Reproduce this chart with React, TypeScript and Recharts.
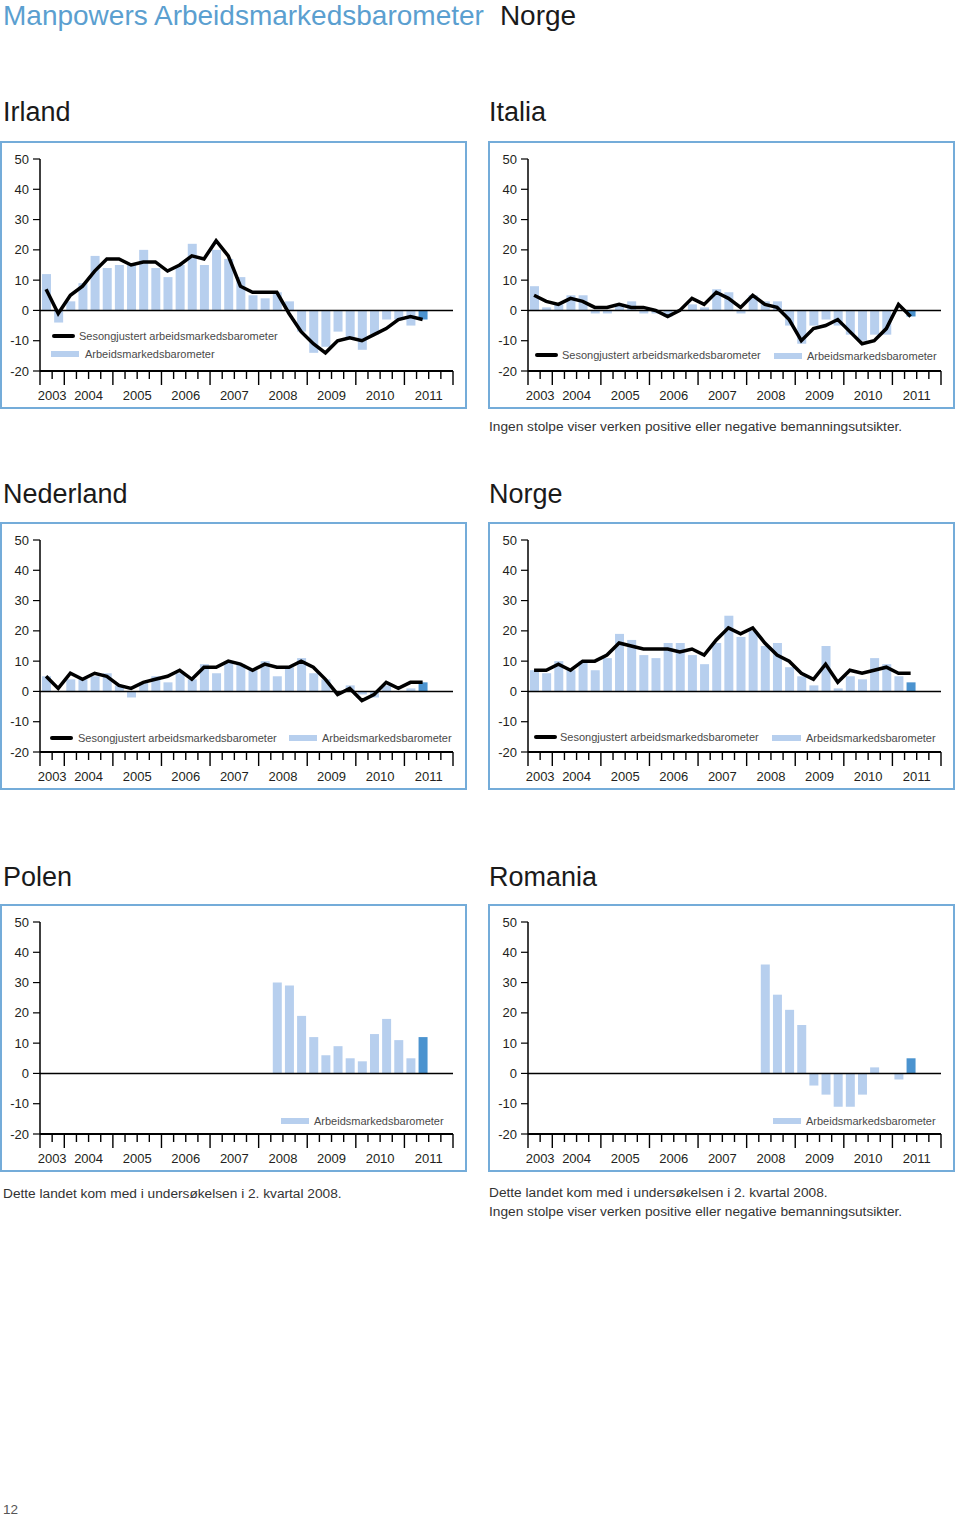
import React from "react";
import { ComposedChart, Bar, Line, XAxis, YAxis, ReferenceLine, Cell, Legend } from "recharts";

// ---------- categories ----------
const quarters = [
  "2003K3", "2003K4",
  "2004K1", "2004K2", "2004K3", "2004K4",
  "2005K1", "2005K2", "2005K3", "2005K4",
  "2006K1", "2006K2", "2006K3", "2006K4",
  "2007K1", "2007K2", "2007K3", "2007K4",
  "2008K1", "2008K2", "2008K3", "2008K4",
  "2009K1", "2009K2", "2009K3", "2009K4",
  "2010K1", "2010K2", "2010K3", "2010K4",
  "2011K1", "2011K2", "2011K3", "2011K4",
];
const yTicks = [-20, -10, 0, 10, 20, 30, 40, 50];

// ---------- series (from 2003K3 unless a start is given) ----------
const irlandBars = [12, -4, 3, 9, 18, 14, 15, 15, 20, 14, 11, 15, 22, 15, 20, 17, 11, 5, 4, 6, 3, -7, -14, -12, -7, -9, -13, -8, -3, -3, -5, -3];
const irlandLine = [7, -1, 5, 8, 13, 17, 17, 15, 16, 16, 13, 15, 18, 17, 23, 18, 8, 6, 6, 6, -1, -7, -11, -14, -10, -9, -10, -8, -6, -3, -2, -3];

const italiaBars = [8, 1, 2, 5, 5, -1, -1, 2, 3, -1, -1, -2, 0, 2, 1, 7, 6, -1, 5, 3, 3, -5, -11, -5, -3, -5, -8, -10, -8, -8, 0, -2];
const italiaLine = [5, 3, 2, 4, 3, 1, 1, 2, 1, 1, 0, -2, 0, 4, 2, 6, 4, 1, 5, 2, 1, -3, -10, -6, -5, -3, -7, -11, -10, -6, 2, -2];

const nederlandBars = [5, 0, 4, 4, 5, 6, 2, -2, 3, 5, 3, 6, 4, 9, 6, 10, 9, 7, 10, 5, 8, 11, 6, 4, 0, 2, -1, -2, 2, 0, 1, 3];
const nederlandLine = [5, 1, 6, 4, 6, 5, 2, 1, 3, 4, 5, 7, 4, 8, 8, 10, 9, 7, 9, 8, 8, 10, 8, 4, -1, 1, -3, -1, 3, 1, 3, 3];

const norgeBars = [7, 6, 10, 7, 10, 7, 11, 19, 17, 12, 11, 16, 16, 12, 9, 16, 25, 18, 20, 15, 16, 8, 5, 2, 15, 1, 5, 4, 11, 9, 5, 3];
const norgeLine = [7, 7, 9, 7, 10, 10, 12, 16, 15, 14, 14, 14, 13, 14, 12, 17, 21, 19, 21, 16, 12, 10, 6, 4, 9, 3, 7, 6, 7, 8, 6, 6];

const polenStart = "2008K2";
const polenBars = [30, 29, 19, 12, 6, 9, 5, 4, 13, 18, 11, 5, 12];

const romaniaStart = "2008K2";
const romaniaBars = [36, 26, 21, 16, -4, -7, -11, -11, -7, 2, 0, -2, 5];

const lineName = "Sesongjustert arbeidsmarkedsbarometer";
const barName = "Arbeidsmarkedsbarometer";

// ---------- style ----------
const FONT = '"Liberation Sans", Arial, Helvetica, sans-serif';
const LIGHT = "#b7cfee";
const DARK = "#4b93cf";
const BORDER = "#74acd9";
const BLUE = "#5b9fd0";
const TXT = "#231f20";
const CW = 467;
const CH = 268;
const MARGIN = { top: 18, right: 14, left: 0, bottom: 0 };
const YW = 40;
const XH = 38;
const SLOT = (CW - MARGIN.left - MARGIN.right - YW) / quarters.length;

function XTick(props: any) {
  const { x, y, payload } = props;
  const q: string = payload.value;
  const i = quarters.indexOf(q);
  const year = q.slice(0, 4);
  const first = i === 0 || quarters[i - 1].slice(0, 4) !== year;
  const n = quarters.filter((s) => s.slice(0, 4) === year).length;
  const left = x - SLOT / 2;
  return (
    <g>
      <line x1={left} x2={left} y1={y} y2={y + (first ? 14 : 8)} stroke="#000" strokeWidth={1.4} />
      {i === quarters.length - 1 && (
        <line x1={x + SLOT / 2} x2={x + SLOT / 2} y1={y} y2={y + 14} stroke="#000" strokeWidth={1.4} />
      )}
      {first && (
        <text x={left + (n * SLOT) / 2} y={y + 29} textAnchor="middle" fontSize={13} fill={TXT}>
          {year}
        </text>
      )}
    </g>
  );
}

type LegendItem = { x1: number; x2: number; y: number; tx: number };
type LegendSpec = { line?: LegendItem; bar?: LegendItem };

const legTxt: React.CSSProperties = {
  position: "absolute",
  fontSize: 11,
  lineHeight: "14px",
  whiteSpace: "nowrap",
  color: "#4a4a4a",
  fontFamily: FONT,
};

function LegendBox({ spec }: { spec: LegendSpec }) {
  const { line, bar } = spec;
  return (
    <div style={{ position: "relative", width: CW, height: CH }}>
      {line && (
        <>
          <div
            style={{
              position: "absolute",
              left: line.x1,
              top: line.y - 1.7,
              width: line.x2 - line.x1,
              height: 3.4,
              background: "#000",
              borderRadius: 2,
            }}
          />
          <div style={{ ...legTxt, left: line.tx, top: line.y - 7 }}>{lineName}</div>
        </>
      )}
      {bar && (
        <>
          <div
            style={{
              position: "absolute",
              left: bar.x1,
              top: bar.y - 3,
              width: bar.x2 - bar.x1,
              height: 6,
              background: LIGHT,
            }}
          />
          <div style={{ ...legTxt, left: bar.tx, top: bar.y - 7 }}>{barName}</div>
        </>
      )}
    </div>
  );
}

function CountryChart({
  bars,
  line,
  start,
  legend,
}: {
  bars: number[];
  line?: number[];
  start: string;
  legend: LegendSpec;
}) {
  const s = quarters.indexOf(start);
  const last = s + bars.length - 1;
  const data = quarters.map((q, i) => ({
    q,
    bar: i >= s && i <= last ? bars[i - s] : null,
    line: line && i < line.length ? line[i] : null,
  }));
  return (
    <ComposedChart width={CW} height={CH} data={data} margin={MARGIN}>
      <XAxis
        dataKey="q"
        interval={0}
        height={XH}
        tickSize={0}
        tickMargin={0}
        tickLine={false}
        axisLine={{ stroke: "#000", strokeWidth: 2 }}
        tick={XTick}
      />
      <YAxis
        type="number"
        domain={[-20, 50]}
        ticks={yTicks}
        interval={0}
        width={YW}
        tickSize={7}
        tickMargin={4}
        axisLine={{ stroke: "#000", strokeWidth: 1.5 }}
        tickLine={{ stroke: "#000", strokeWidth: 1.2 }}
        tick={{ fontSize: 13, fill: TXT }}
      />
      <Bar dataKey="bar" name={barName} barSize={9} fill={LIGHT} isAnimationActive={false}>
        {data.map((_, i) => (
          <Cell key={i} fill={i === last ? DARK : LIGHT} />
        ))}
      </Bar>
      <ReferenceLine y={0} stroke="#000" strokeWidth={1.6} />
      {line && (
        <Line
          dataKey="line"
          name={lineName}
          type="linear"
          stroke="#000"
          strokeWidth={3.5}
          dot={false}
          activeDot={false}
          isAnimationActive={false}
        />
      )}
      <Legend
        layout="horizontal"
        verticalAlign="middle"
        align="center"
        wrapperStyle={{ left: 0, top: 0, width: CW, height: CH, pointerEvents: "none" }}
        content={() => <LegendBox spec={legend} />}
      />
    </ComposedChart>
  );
}

const panels = [
  {
    key: "irland", x: 0, y: 141, bars: irlandBars, line: irlandLine, start: quarters[0],
    legend: { line: { x1: 52, x2: 75, y: 195, tx: 79 }, bar: { x1: 51, x2: 79, y: 213, tx: 85 } },
  },
  {
    key: "italia", x: 488, y: 141, bars: italiaBars, line: italiaLine, start: quarters[0],
    legend: { line: { x1: 47, x2: 70, y: 214, tx: 74 }, bar: { x1: 286, x2: 314, y: 215, tx: 319 } },
  },
  {
    key: "nederland", x: 0, y: 522, bars: nederlandBars, line: nederlandLine, start: quarters[0],
    legend: { line: { x1: 50, x2: 73, y: 216, tx: 78 }, bar: { x1: 289, x2: 317, y: 216, tx: 322 } },
  },
  {
    key: "norge", x: 488, y: 522, bars: norgeBars, line: norgeLine, start: quarters[0],
    legend: { line: { x1: 46, x2: 69, y: 215, tx: 72 }, bar: { x1: 284, x2: 313, y: 216, tx: 318 } },
  },
  {
    key: "polen", x: 0, y: 904, bars: polenBars, line: undefined, start: polenStart,
    legend: { bar: { x1: 281, x2: 309, y: 217, tx: 314 } },
  },
  {
    key: "romania", x: 488, y: 904, bars: romaniaBars, line: undefined, start: romaniaStart,
    legend: { bar: { x1: 285, x2: 313, y: 217, tx: 318 } },
  },
];

const titles = [
  { text: "Irland", x: 3, y: 121 },
  { text: "Italia", x: 489, y: 121 },
  { text: "Nederland", x: 3, y: 503 },
  { text: "Norge", x: 489, y: 503 },
  { text: "Polen", x: 3, y: 886 },
  { text: "Romania", x: 489, y: 886 },
];

const notes = [
  { text: "Ingen stolpe viser verken positive eller negative bemanningsutsikter.", x: 489, y: 431 },
  { text: "Dette landet kom med i undersøkelsen i 2. kvartal 2008.", x: 3, y: 1198 },
  { text: "Dette landet kom med i undersøkelsen i 2. kvartal 2008.", x: 489, y: 1197 },
  { text: "Ingen stolpe viser verken positive eller negative bemanningsutsikter.", x: 489, y: 1216 },
];

export default function App() {
  return (
    <div
      style={{
        position: "absolute",
        left: 0,
        top: 0,
        width: 960,
        height: 1517,
        background: "#fff",
        fontFamily: FONT,
        overflow: "hidden",
      }}
    >
      <svg width={960} height={1517} style={{ position: "absolute", left: 0, top: 0 }} fontFamily={FONT}>
        <text x={3} y={25} fontSize={28} fill={BLUE}>
          Manpowers Arbeidsmarkedsbarometer
          <tspan dx={16} fill="#1a1a1a">Norge</tspan>
        </text>
        {titles.map((t) => (
          <text key={t.text} x={t.x} y={t.y} fontSize={27} fill="#1a1a1a">
            {t.text}
          </text>
        ))}
        {notes.map((n, i) => (
          <text key={i} x={n.x} y={n.y} fontSize={13.7} fill="#333">
            {n.text}
          </text>
        ))}
        <text x={3} y={1514} fontSize={13.5} fill="#555">12</text>
      </svg>
      {panels.map((p) => (
        <div
          key={p.key}
          style={{
            position: "absolute",
            left: p.x,
            top: p.y,
            width: CW,
            height: CH,
            boxShadow: `inset 0 0 0 2px ${BORDER}`,
          }}
        >
          <CountryChart bars={p.bars} line={p.line} start={p.start} legend={p.legend} />
        </div>
      ))}
    </div>
  );
}
